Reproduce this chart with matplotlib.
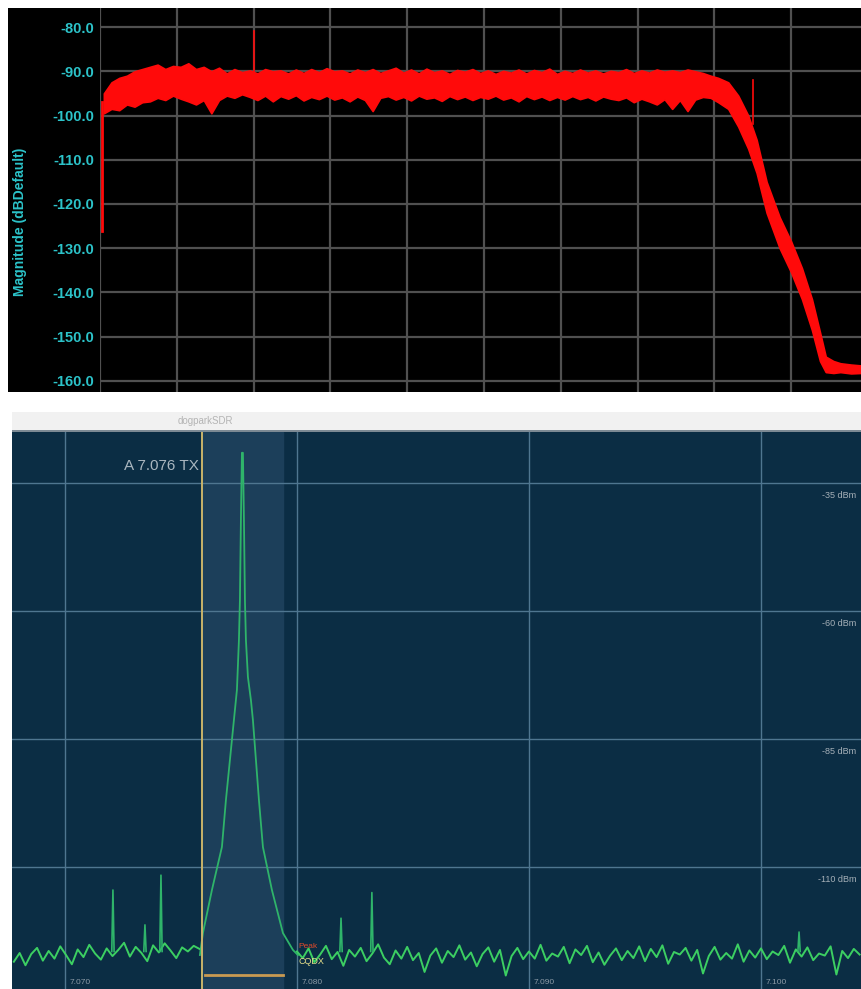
import numpy as np
import matplotlib
matplotlib.use("Agg")
import matplotlib.pyplot as plt
from matplotlib.patches import Rectangle

plt.rcParams['font.family'] = ['Liberation Sans', 'DejaVu Sans']

W, H = 861, 989

# ---- top panel : filter response (x in grid divisions) ----
top_yticks = [-80, -90, -100, -110, -120, -130, -140, -150, -160]
plateau_x = [0.05, 0.15, 0.25, 0.35, 0.45, 0.55, 0.65, 0.75, 0.85, 0.95,
             1.05, 1.15, 1.25, 1.35, 1.45, 1.55, 1.65, 1.75, 1.85, 1.95,
             2.05, 2.15, 2.25, 2.35, 2.45, 2.55, 2.65, 2.75, 2.85, 2.95,
             3.05, 3.15, 3.25, 3.35, 3.45, 3.55, 3.65, 3.75, 3.85, 3.95,
             4.05, 4.15, 4.25, 4.35, 4.45, 4.55, 4.65, 4.75, 4.85, 4.95,
             5.05, 5.15, 5.25, 5.35, 5.45, 5.55, 5.65, 5.75, 5.85, 5.95,
             6.05, 6.15, 6.25, 6.35, 6.45, 6.55, 6.65, 6.75, 6.85, 6.95,
             7.05, 7.15, 7.25, 7.35, 7.45, 7.55, 7.65, 7.75, 7.85, 7.95]
plateau_top = [-95, -92.5, -91.5, -91, -90, -89.5, -89, -88.5, -89.5, -88.8,
               -89, -88.2, -89.5, -89, -90, -89.2, -90.5, -89.5, -90.2, -89.8,
               -90.5, -89.5, -90, -89.8, -90.5, -89.6, -90.4, -89.5, -90.2, -89.3,
               -90, -89.8, -90.5, -89.6, -90.2, -89.5, -90.4, -89.8, -89.2, -90.3,
               -89.6, -90.5, -89.4, -90.2, -89.8, -90.6, -89.7, -90.1, -89.5, -90.4,
               -89.8, -90.6, -89.9, -90.3, -89.6, -90.5, -89.7, -90.2, -89.4, -90.6,
               -89.9, -90.4, -89.6, -90.3, -89.8, -90.5, -89.9, -90.2, -89.5, -90.4,
               -89.8, -90.3, -89.6, -90.1, -89.8, -90.2, -89.6, -90, -90.4, -91]
plateau_bot = [-99.5, -98.5, -98.8, -97.5, -98, -97, -96.8, -96, -96.5, -95.5,
               -96.2, -96.8, -97.5, -96.5, -99.5, -96.5, -95.5, -96, -95.2, -95.8,
               -96.5, -95.5, -96.8, -95.6, -96.2, -95.4, -96.6, -95.8, -96.3, -95.5,
               -96.4, -95.9, -96.8, -95.7, -96.5, -99, -96, -95.6, -96.4, -95.8,
               -96.6, -95.5, -96.2, -95.9, -96.7, -95.6, -96.3, -95.7, -96.5, -95.8,
               -96.2, -95.5, -96.4, -95.9, -96.8, -95.6, -96.3, -95.7, -96.5, -95.8,
               -96.4, -95.6, -96.3, -95.8, -96.6, -95.7, -96.2, -96.5, -95.9, -97,
               -96.2, -96.8, -97.5, -96.3, -98.5, -96.5, -99, -96.4, -95.8, -96]
roll_x = [8.05, 8.18, 8.31, 8.44, 8.55, 8.68, 8.85, 9.0, 9.14, 9.27,
          9.375, 9.45, 9.55, 9.64, 9.78, 9.91]
roll_top = [-91.5, -92.5, -95.5, -100, -105.5, -115, -123, -128.5, -134.5, -141.5,
            -149, -154.5, -155.5, -156, -156.3, -156.5]
roll_bot = [-97, -98.5, -102.5, -107.5, -113, -122, -130, -135.5, -141.5, -148.5,
            -155.5, -158, -158.2, -158, -158.3, -158.2]
top_spike_x = [2.0, 8.5]
top_spike_db = [-81, -102]

# ---- bottom panel : dogparkSDR spectrum (MHz, dBm) ----
grid_f = [7.070, 7.080, 7.090, 7.100]
grid_f_labels = ["7.070", "7.080", "7.090", "7.100"]
grid_db = [-35, -60, -85, -110]
grid_db_labels = ["-35 dBm", "-60 dBm", "-85 dBm", "-110 dBm"]
tx_freq = 7.07591
tx_edge = 7.07940
left_start, right_start, step = 7.0678, 7.0800, 0.00025
left_noise = [-128.5, -126.8, -129.2, -127.0, -125.8, -128.3, -126.4, -127.9, -125.5, -127.2,
              -129.0, -126.1, -127.6, -125.2, -126.9, -128.1, -125.9, -127.4, -126.2, -124.8,
              -127.5, -125.6, -126.8, -128.4, -125.3, -126.7, -124.9, -126.3, -127.8, -125.7,
              -126.5, -125.4, -126.0]
right_noise = [-126.5, -127.8, -125.9, -128.6, -127.1, -125.4, -128.0, -126.6, -129.3, -126.2,
               -127.5, -125.8, -128.4, -126.9, -125.1, -127.7, -129.0, -126.3, -127.9, -125.6,
               -128.2, -126.8, -130.5, -127.3, -125.9, -128.7, -126.4, -127.6, -125.3, -128.1,
               -126.7, -129.4, -127.0, -125.7, -128.5, -126.2, -131.2, -127.4, -125.8, -128.0,
               -126.5, -127.9, -125.2, -128.3, -126.9, -127.5, -125.6, -128.8, -126.1, -127.2,
               -125.4, -128.6, -126.7, -129.1, -127.3, -125.9, -128.2, -126.4, -127.8, -125.5,
               -128.4, -126.0, -127.6, -125.3, -128.9, -126.6, -127.1, -125.8, -128.3, -126.2,
               -130.8, -127.4, -125.6, -128.1, -126.8, -127.9, -125.1, -128.5, -126.3, -127.7,
               -125.9, -128.0, -126.5, -127.2, -125.4, -128.7, -126.1, -127.5, -125.7, -128.2,
               -126.9, -127.3, -125.5, -131.0, -126.4, -127.8, -126.0, -127.1]
peak_f = [7.075819, 7.075948, 7.076336, 7.076767, 7.076940, 7.077112, 7.077284, 7.077414,
          7.077500, 7.077543, 7.077586, 7.077629, 7.077672, 7.077716, 7.077759, 7.077802,
          7.077888, 7.078017, 7.078103, 7.078233, 7.078362, 7.078534, 7.078922, 7.079397,
          7.079828, 7.080043]
peak_db = [-127.2, -122.9, -114.5, -106.1, -96.9, -89.1, -81.3, -75.4,
           -65.7, -57.9, -42.2, -29.1, -29.1, -42.2, -57.9, -65.7,
           -72.9, -77.4, -81.3, -89.1, -96.9, -106.1, -114.5, -122.9,
           -126.2, -127.2]
spike_f = [7.07207, 7.07345, 7.07414, 7.08190, 7.08323, 7.10164]
spike_db = [-114.5, -121.3, -111.6, -120.0, -115.0, -122.7]

fig = plt.figure(figsize=(W / 100, H / 100), dpi=100)
fig.patch.set_facecolor("white")


def px_axes(x0, y0, x1, y1):
    return fig.add_axes([x0 / W, 1 - y1 / H, (x1 - x0) / W, (y1 - y0) / H])


def px_rect(x0, y0, x1, y1, color):
    fig.patches.append(Rectangle((x0 / W, 1 - y1 / H), (x1 - x0) / W, (y1 - y0) / H,
                                 transform=fig.transFigure, facecolor=color,
                                 edgecolor="none", zorder=-5))


# ---------------- top ----------------
px_rect(8, 8, 861, 392, "black")
ax1 = px_axes(100, 8, 861, 392)
ax1.set_facecolor("black")
ax1.set_xlim(0, 9.909)
ax1.set_ylim(-162.5, -75.7)
ax1.set_xticks(range(0, 10))
ax1.set_yticks(top_yticks)
ax1.set_yticklabels([f"{v:.1f}" for v in top_yticks])
ax1.grid(True, color="#505050", linewidth=1.6)
ax1.set_axisbelow(True)
ax1.tick_params(axis="x", length=0, labelbottom=False)
ax1.tick_params(axis="y", length=0, pad=4, labelcolor="#2cc3c9", labelsize=10.5)
for lab in ax1.get_yticklabels():
    lab.set_fontweight("bold")
for s in ax1.spines.values():
    s.set_visible(False)

red_x = plateau_x + roll_x
red_top = plateau_top + roll_top
red_bot = plateau_bot + roll_bot
ax1.fill_between(red_x, red_bot, red_top, color="#ff0a0a", linewidth=1.2,
                 edgecolor="#ff0a0a", zorder=3)
ax1.plot([0.025, 0.025], [-126, -97], color="#ff0a0a", linewidth=2, zorder=3)
for sx, sd in zip(top_spike_x, top_spike_db):
    ax1.plot([sx, sx], [-92, sd], color="#ff0a0a", linewidth=1.2, zorder=3)
fig.text(20 / W, 1 - 222 / H, "Magnitude (dBDefault)", rotation=90, color="#2cc3c9",
         fontsize=10, fontweight="bold", ha="center", va="center")

# ---------------- bottom ----------------
px_rect(12, 412, 861, 430, "#f1f1f1")
px_rect(12, 430, 861, 432, "#7d8a94")
fig.text(205 / W, 1 - 421 / H, "dogparkSDR", color="#b4b4b4", fontsize=7,
         ha="center", va="center")

ax2 = px_axes(12, 432, 861, 989)
ax2.set_facecolor("#0b2d44")
ax2.set_xlim(7.06772, 7.10431)
ax2.set_ylim(-133.83, -25.04)
ax2.set_xticks(grid_f)
ax2.set_yticks(grid_db)
ax2.grid(True, color="#4f7690", linewidth=1.0)
ax2.set_axisbelow(True)
ax2.tick_params(length=0, labelbottom=False, labelleft=False)
for s in ax2.spines.values():
    s.set_visible(False)

ax2.axvspan(tx_freq, tx_edge, color="#1c3f5a", zorder=0.5)
ax2.axvline(tx_freq, color="#c9b46a", linewidth=1.4, zorder=4)
ax2.plot([tx_freq + 0.00012, tx_edge], [-131.1, -131.1], color="#c99a52",
         linewidth=2, zorder=4)

green = "#3ccf62"
left_f = left_start + np.arange(len(left_noise)) * step
right_f = right_start + np.arange(len(right_noise)) * step
ax2.plot(left_f, left_noise, color=green, linewidth=1.4, zorder=3)
ax2.plot(peak_f, peak_db, color="#2fb46a", linewidth=1.3, zorder=3)
ax2.plot(right_f, right_noise, color=green, linewidth=1.4, zorder=3)
for sf, sd in zip(spike_f, spike_db):
    ax2.plot([sf - 0.00005, sf, sf + 0.00005], [-126.5, sd, -126.5],
             color="#2fb46a", linewidth=1.2, zorder=3)

for f, lab in zip(grid_f, grid_f_labels):
    ax2.text(f + 0.0002, -132.6, lab, color="#8c9aa6", fontsize=6,
             ha="left", va="center")
for d, lab in zip(grid_db, grid_db_labels):
    ax2.text(7.1041, d - 2.4, lab, color="#a6b0b8", fontsize=6.5,
             ha="right", va="center")

ax2.text(7.07578, -31.6, "A 7.076 TX", color="#aab6bf", fontsize=11,
         ha="right", va="center")
ax2.text(7.08005, -125.6, "Peak", color="#e04a2a", fontsize=6,
         ha="left", va="center", zorder=5)
ax2.text(7.08005, -128.4, "CQDX", color="#e6e08a", fontsize=6.5,
         ha="left", va="center", zorder=5)

fig.savefig("out.png", dpi=100, facecolor="white")
